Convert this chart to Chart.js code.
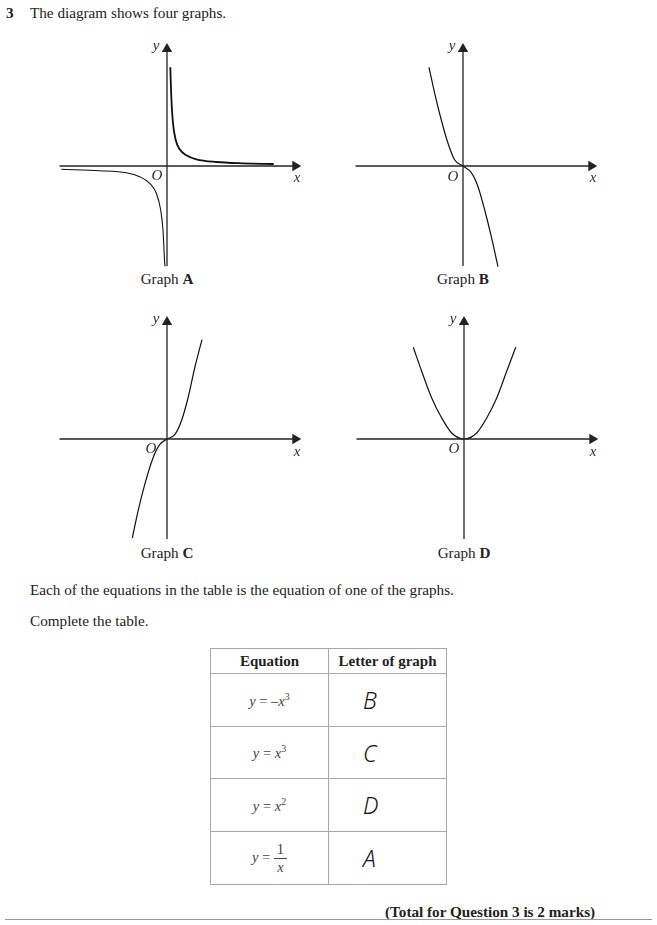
<!DOCTYPE html>
<html>
<head>
<meta charset="utf-8">
<script src="https://cdn.jsdelivr.net/npm/chart.js@4/dist/chart.umd.min.js"></script>
<style>
  body { margin: 0; background: #fff; }
  #page { position: relative; width: 657px; height: 925px; font-family: "Liberation Serif", "Times New Roman", serif; color: #222; }
  .txt { position: absolute; font-size: 15.2px; line-height: 18px; white-space: nowrap; }
  .lab { position: absolute; font-style: italic; font-size: 15px; line-height: 15px; color: #233052; transform: translate(-50%, -50%); }
  .cap { position: absolute; font-size: 15.2px; line-height: 18px; transform: translate(-50%, -50%); white-space: nowrap; }
  canvas { position: absolute; }
  table { position: absolute; left: 210px; top: 648px; border-collapse: collapse; }
  td, th { border: 1.5px solid #a8a8a8; text-align: center; padding: 0; }
  th { height: 24px; font-size: 15px; font-weight: bold; color: #222; }
  td.eq { font-size: 14.5px; color: #444; width: 117px; }
  td.ans { font-family: "Noto Sans", sans-serif; font-style: italic; font-weight: 300; font-size: 23px; color: #111; width: 117px; text-align: left; padding-left: 34px; box-sizing: border-box; }
  .frac { display: inline-block; vertical-align: middle; text-align: center; line-height: 17px; }
  .frac span { display: block; }
  .frac .num { border-bottom: 1px solid #444; padding: 0 3px; }
  #rule { position: absolute; left: 5px; top: 919px; width: 647px; height: 0; border-top: 1.5px solid #999; }
</style>
</head>
<body>
<div id="page">
  <div class="txt" style="left:6px; top:4px;"><b>3</b></div>
  <div class="txt" style="left:30px; top:4px;">The diagram shows four graphs.</div>

  <canvas id="graphA" width="243" height="225" style="left:59px; top:42px;"></canvas>
  <canvas id="graphB" width="243" height="225" style="left:355px; top:42px;"></canvas>
  <canvas id="graphC" width="243" height="225" style="left:59px; top:315px;"></canvas>
  <canvas id="graphD" width="243" height="225" style="left:356px; top:315px;"></canvas>

  <div class="lab" style="left:156px; top:45px;">y</div>
  <div class="lab" style="left:157px; top:175px;">O</div>
  <div class="lab" style="left:297px; top:177px;">x</div>
  <div class="cap" style="left:167px; top:279px;">Graph <b>A</b></div>

  <div class="lab" style="left:452px; top:45px;">y</div>
  <div class="lab" style="left:453px; top:176px;">O</div>
  <div class="lab" style="left:593px; top:177px;">x</div>
  <div class="cap" style="left:463px; top:279px;">Graph <b>B</b></div>

  <div class="lab" style="left:156px; top:318px;">y</div>
  <div class="lab" style="left:151px; top:448px;">O</div>
  <div class="lab" style="left:297px; top:451px;">x</div>
  <div class="cap" style="left:167px; top:553px;">Graph <b>C</b></div>

  <div class="lab" style="left:453px; top:318px;">y</div>
  <div class="lab" style="left:454px; top:448px;">O</div>
  <div class="lab" style="left:593px; top:451px;">x</div>
  <div class="cap" style="left:464px; top:553px;">Graph <b>D</b></div>

  <div class="txt" style="left:30px; top:581px;">Each of the equations in the table is the equation of one of the graphs.</div>
  <div class="txt" style="left:30px; top:612px;">Complete the table.</div>

  <table>
    <tr><th style="width:117px;">Equation</th><th style="width:117px;">Letter of graph</th></tr>
    <tr style="height:53px;"><td class="eq"><i>y</i> = –<i>x</i><sup style="font-size:10px;">3</sup></td><td class="ans">B</td></tr>
    <tr style="height:52px;"><td class="eq"><i>y</i> = <i>x</i><sup style="font-size:10px;">3</sup></td><td class="ans">C</td></tr>
    <tr style="height:53px;"><td class="eq"><i>y</i> = <i>x</i><sup style="font-size:10px;">2</sup></td><td class="ans">D</td></tr>
    <tr style="height:53px;"><td class="eq"><i>y</i> = <span class="frac"><span class="num">1</span><span><i>x</i></span></span></td><td class="ans">A</td></tr>
  </table>

  <div class="txt" style="left:385px; top:903px;"><b>(Total for Question 3 is 2 marks)</b></div>
  <div id="rule"></div>
</div>

<script>
// 軸の範囲（グラフ共通、単位は任意）
var xRange = [-10.8, 13.5];
var yRange = [-10.1, 12.4];
var xAxisEnds = [-10.75, 13.43];
var yAxisEnds = [-10.0, 12.3];

// Graph A : y = 1/x
var graphA_left = [[-10.57, -0.33], [-6.73, -0.47], [-4.07, -0.67], [-2.73, -1.07], [-1.73, -1.73],
  [-1.07, -2.73], [-0.63, -4.4], [-0.4, -6.4], [-0.23, -9.73], [-0.2, -10.05]];
var graphA_right = [[0.33, 9.87], [0.43, 6.93], [0.6, 4.27], [0.87, 2.6], [1.27, 1.67],
  [1.93, 1.07], [2.93, 0.67], [4.93, 0.4], [7.6, 0.27], [10.67, 0.2]];

// Graph B : y = -x^3
var graphB = [[-3.4, 9.87], [-2.83, 7.27], [-2.17, 4.6], [-1.5, 2.27], [-0.83, 0.6], [0, 0],
  [0.83, -0.67], [1.5, -2.07], [2.17, -4.4], [2.83, -7.07], [3.5, -10.07]];

// Graph C : y = x^3
var graphC = [[-3.47, -9.9], [-2.9, -7.23], [-2.23, -4.57], [-1.4, -1.9], [-0.73, -0.57], [0, 0],
  [0.77, 0.43], [1.43, 1.77], [2.1, 4.1], [2.77, 7.1], [3.5, 9.93]];

// Graph D : y = x^2
var graphD = [[-5.07, 9.17], [-4.23, 6.77], [-3.23, 4.1], [-2.23, 2.1], [-1.23, 0.6], [0, 0],
  [1.27, 0.6], [2.27, 2.1], [3.27, 4.1], [4.27, 6.77], [5.17, 9.17]];

function toPoints(arr) {
  return arr.map(function(p) { return { x: p[0], y: p[1] }; });
}

function curveSet(arr, width) {
  return {
    data: toPoints(arr),
    showLine: true,
    borderColor: '#111',
    borderWidth: width,
    pointRadius: 0,
    cubicInterpolationMode: 'monotone',
    clip: false
  };
}

function axisSets() {
  var arrowR = 6;
  return [
    {
      data: [{ x: xAxisEnds[0], y: 0 }, { x: xAxisEnds[1] - 0.6, y: 0 }],
      showLine: true,
      borderColor: '#222',
      borderWidth: 1.3,
      pointRadius: [0, arrowR],
      pointStyle: 'triangle',
      rotation: 90,
      pointBackgroundColor: '#222',
      pointBorderWidth: 0,
      clip: false
    },
    {
      data: [{ x: 0, y: yAxisEnds[0] }, { x: 0, y: yAxisEnds[1] - 0.6 }],
      showLine: true,
      borderColor: '#222',
      borderWidth: 1.3,
      pointRadius: [0, arrowR],
      pointStyle: 'triangle',
      rotation: 0,
      pointBackgroundColor: '#222',
      pointBorderWidth: 0,
      clip: false
    }
  ];
}

function drawGraph(id, curves) {
  var ctx = document.getElementById(id).getContext('2d');
  new Chart(ctx, {
    type: 'scatter',
    data: { datasets: axisSets().concat(curves) },
    options: {
      responsive: false,
      animation: false,
      layout: { padding: 0, autoPadding: false },
      events: [],
      scales: {
        x: { type: 'linear', display: false, min: xRange[0], max: xRange[1] },
        y: { type: 'linear', display: false, min: yRange[0], max: yRange[1] }
      },
      plugins: { legend: { display: false }, tooltip: { enabled: false } }
    }
  });
}

drawGraph('graphA', [curveSet(graphA_left, 1.1), curveSet(graphA_right, 1.8)]);
drawGraph('graphB', [curveSet(graphB, 1.2)]);
drawGraph('graphC', [curveSet(graphC, 1.2)]);
drawGraph('graphD', [curveSet(graphD, 1.2)]);
</script>
</body>
</html>
